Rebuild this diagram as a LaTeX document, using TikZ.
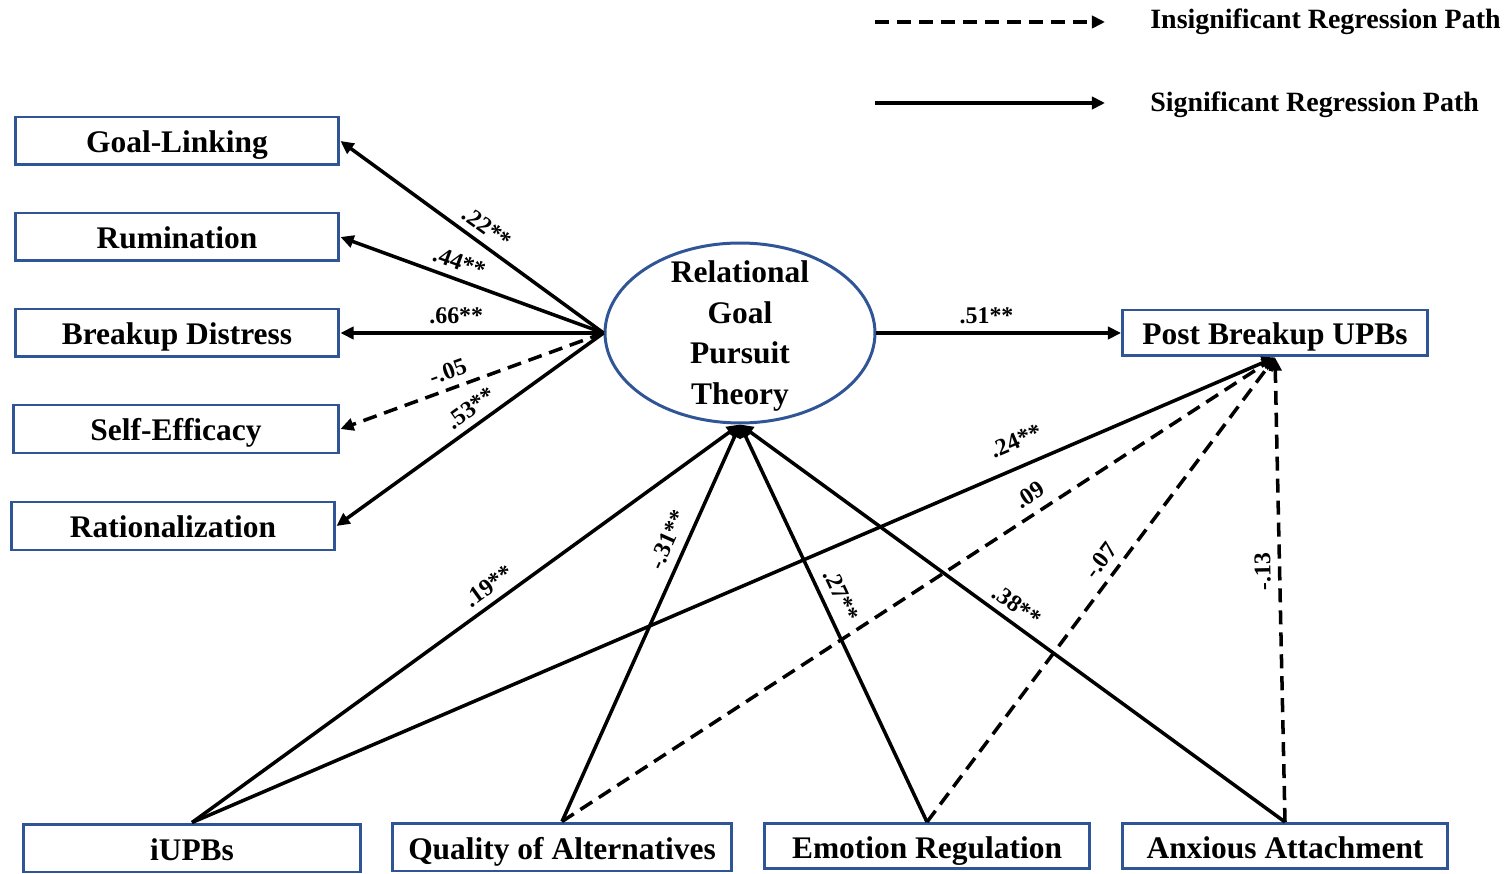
\documentclass[tikz,border=0pt]{standalone}
\usepackage{fontspec}
\setmainfont{Liberation Serif}
\usetikzlibrary{arrows.meta,shapes.geometric}
\definecolor{boxblue}{RGB}{47,85,151}

\begin{document}
\begin{tikzpicture}[x=0.02cm,y=-0.02cm,
  varbox/.style={draw=boxblue,line width=1.7pt,minimum width=6.48cm,minimum height=0.96cm,inner sep=0pt,text height=0.6cm,text depth=0.12cm,font=\bfseries\fontsize{17.9}{20}\selectfont},
  theory/.style={ellipse,draw=boxblue,line width=1.7pt,minimum width=5.4cm,minimum height=3.6cm,inner sep=0pt},
  sigpath/.style={line width=2pt,-{Triangle[length=7.5pt,width=7pt]}},
  insigpath/.style={sigpath,dash pattern=on 8pt off 4.5pt},
  coef/.style={font=\bfseries\fontsize{13.6}{15}\selectfont,sloped,above=2.5pt,inner sep=1.5pt},
  legendtxt/.style={anchor=base west,inner sep=0pt,font=\bfseries\fontsize{15.9}{18}\selectfont}]
\useasboundingbox (0,0) rectangle (1511,874);

% legend
\coordinate (insA) at (875,22);
\coordinate (insB) at (1105,22);
\coordinate (sigA) at (875,103);
\coordinate (sigB) at (1105,103);
\draw[insigpath,line width=2.3pt] (insA) -- (insB);
\draw[sigpath,line width=2.3pt] (sigA) -- (sigB);
\node[legendtxt] (instxt) at (1150,29) {Insignificant Regression Path};
\node[legendtxt] (sigtxt) at (1150,112) {Significant Regression Path};

% outcome variables
\node[varbox] (gl) at (177,141) {Goal-Linking};
\node[varbox] (rum) at (177,237) {Rumination};
\node[varbox] (bd) at (177,333) {Breakup Distress};
\node[varbox,minimum width=6.52cm] (se) at (176,429) {Self-Efficacy};
\node[varbox] (rat) at (173,526) {Rationalization};

% central construct
\node[theory] (rgpt) at (740,333) {};
\node[align=center,inner sep=0pt,font=\bfseries\fontsize{17.9}{23.3}\selectfont] (rgpttxt) at (740,336) {Relational\\Goal\\Pursuit\\Theory};
\node[varbox,minimum width=6.1cm,minimum height=0.92cm] (post) at (1275,333) {Post Breakup UPBs};

% predictors
\node[varbox,minimum width=6.76cm] (iupb) at (192,848) {iUPBs};
\node[varbox,minimum width=6.8cm] (qoa) at (562,847) {Quality of Alternatives};
\node[varbox,minimum width=6.5cm,minimum height=0.9cm] (er) at (927,846) {Emotion Regulation};
\node[varbox,minimum width=6.5cm,minimum height=0.9cm] (aa) at (1285,846) {Anxious Attachment};

% paths from the theory
\draw[sigpath] (rgpt.west) -- node[coef,pos=0.48] {.22**} (gl.east);
\draw[sigpath] (rgpt.west) -- node[coef,pos=0.57] {.44**} (rum.east);
\draw[sigpath] (rgpt.west) -- node[coef,pos=0.56] {.66**} (bd.east);
\draw[insigpath] (rgpt.west) -- node[coef,pos=0.57] {-.05} (se.east);
\draw[sigpath] (rgpt.west) -- node[coef,pos=0.46] {.53**} (rat.east);
\draw[sigpath] (rgpt.east) -- node[coef,pos=0.45] {.51**} (post.west);

% paths into the theory
\draw[sigpath] (iupb.north) -- node[coef,pos=0.56] {.19**} (rgpt.south);
\draw[sigpath] (qoa.north) -- node[coef,pos=0.69,above=1pt] {-.31**} (rgpt.south);
\draw[sigpath] (er.north) -- node[coef,pos=0.55,above=1pt] {.27**} (rgpt.south);
\draw[sigpath] (aa.north) -- node[coef,pos=0.51] {.38**} (rgpt.south);

% paths into post breakup UPBs
\draw[sigpath] (iupb.north) -- node[coef,pos=0.77,above=5pt] {.24**} (post.south);
\draw[insigpath] (qoa.north) -- node[coef,pos=0.67,above=1pt] {.09} (post.south);
\draw[insigpath] (er.north) -- node[coef,pos=0.54,above=0.5pt] {-.07} (post.south);
\draw[insigpath] (aa.north) -- node[coef,pos=0.54,allow upside down] {-.13} (post.south);
\end{tikzpicture}
\end{document}
